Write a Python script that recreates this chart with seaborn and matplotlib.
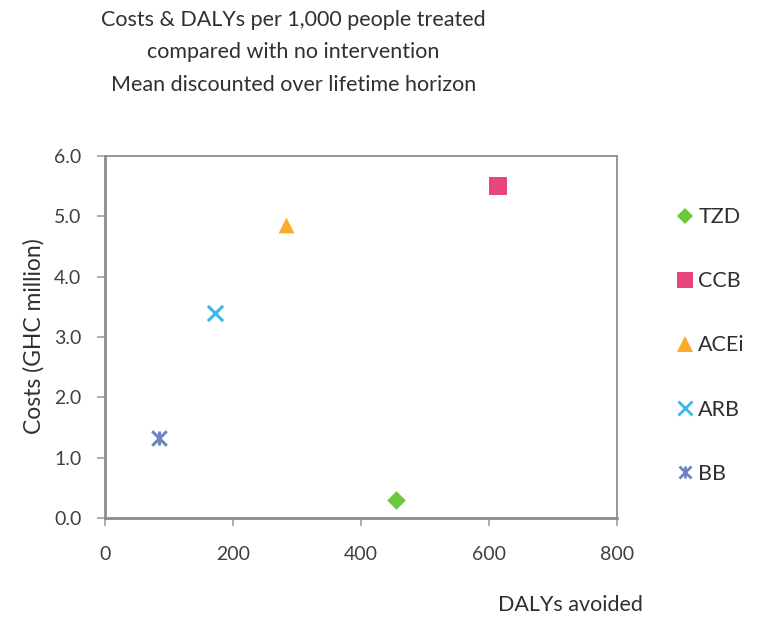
import matplotlib
matplotlib.use("Agg")
import matplotlib.pyplot as plt
from matplotlib.lines import Line2D
import seaborn as sns
import pandas as pd

# Intervention results (per 1,000 people treated vs. no intervention)
treatments = ["TZD", "CCB", "ACEi", "ARB", "BB"]
dalys_avoided = [455, 614, 283, 172, 84]
costs_million = [0.30, 5.50, 4.85, 3.40, 1.33]
x_ticks = [0, 200, 400, 600, 800]
y_ticks = [0.0, 1.0, 2.0, 3.0, 4.0, 5.0, 6.0]
title_lines = ["Costs & DALYs per 1,000 people treated",
               "compared with no intervention",
               "Mean discounted over lifetime horizon"]

colors = {"TZD": "#6cc93a", "CCB": "#e8457a", "ACEi": "#f8ac2a",
          "ARB": "#3cb8e4", "BB": "#7282c6"}
markers = {"TZD": "D", "CCB": "s", "ACEi": "^", "ARB": "x", "BB": "x"}
sizes = {"TZD": 90, "CCB": 150, "ACEi": 130, "ARB": 120, "BB": 110}

df = pd.DataFrame({"treatment": treatments, "dalys": dalys_avoided,
                   "cost": costs_million})

sns.set_theme(style="white")
plt.rcParams["font.family"] = ["Lato", "DejaVu Sans"]

fig = plt.figure(figsize=(7.58, 6.18), dpi=100)
ax = fig.add_axes([0.1385, 0.1618, 0.6755, 0.5858])

for name in treatments:
    sub = df[df["treatment"] == name]
    lw = 2.2 if markers[name] == "x" else 0
    sns.scatterplot(data=sub, x="dalys", y="cost", ax=ax,
                    color=colors[name], marker=markers[name], s=sizes[name],
                    linewidth=lw, edgecolor=colors[name] if lw == 0 else None,
                    legend=False, zorder=3)
    if name == "BB":
        # asterisk-style marker: an x crossed by a vertical stroke
        sns.scatterplot(data=sub, x="dalys", y="cost", ax=ax,
                        color=colors[name], marker="|", s=110,
                        linewidth=2.2, legend=False, zorder=3)

ax.set_xlim(0, 800)
ax.set_ylim(0, 6)
ax.set_xticks(x_ticks)
ax.set_yticks(y_ticks)
ax.set_xticklabels([str(v) for v in x_ticks])
ax.set_yticklabels([f"{v:.1f}" for v in y_ticks])
ax.tick_params(axis="both", which="major", bottom=True, left=True,
               direction="out", length=6, width=1.2, color="#a0a0a0",
               labelsize=14, labelcolor="#404040")
ax.tick_params(axis="x", pad=14)
ax.tick_params(axis="y", pad=11)
for side, sp in ax.spines.items():
    sp.set_color("#8c8c8c")
    sp.set_linewidth(1.3)
ax.spines["left"].set_linewidth(2.0)
ax.spines["bottom"].set_linewidth(2.0)

ax.set_xlabel("")
ax.set_ylabel("")
fig.text(0.044, 0.456, "Costs (GHC million)", rotation=90, ha="center",
         va="center", fontsize=16.5, color="#303030")
fig.text(0.753, 0.021, "DALYs avoided", ha="center", va="center",
         fontsize=15.5, color="#303030")

for i, line in enumerate(title_lines):
    fig.text(0.387, 1 - (20 + 32.5 * i) / 618, line, ha="center",
             va="center", fontsize=15.5, color="#303030")

handles = []
for name in treatments:
    if name == "BB":
        h = (Line2D([], [], linestyle="none", marker="x", color=colors[name],
                    markersize=9, markeredgewidth=2),
             Line2D([], [], linestyle="none", marker="|", color=colors[name],
                    markersize=9, markeredgewidth=2))
    elif markers[name] == "x":
        h = Line2D([], [], linestyle="none", marker="x", color=colors[name],
                   markersize=10, markeredgewidth=2)
    else:
        h = Line2D([], [], linestyle="none", marker=markers[name],
                   color=colors[name],
                   markersize=11 if markers[name] != "D" else 8.5,
                   markeredgewidth=0)
    handles.append(h)

fig.legend(handles, treatments, loc="center left",
           bbox_to_anchor=(0.866, 0.441), frameon=False, fontsize=15.5,
           labelspacing=2.05, handletextpad=0.15, handlelength=0.9,
           labelcolor="#303030")

fig.savefig("out.png", dpi=100)
